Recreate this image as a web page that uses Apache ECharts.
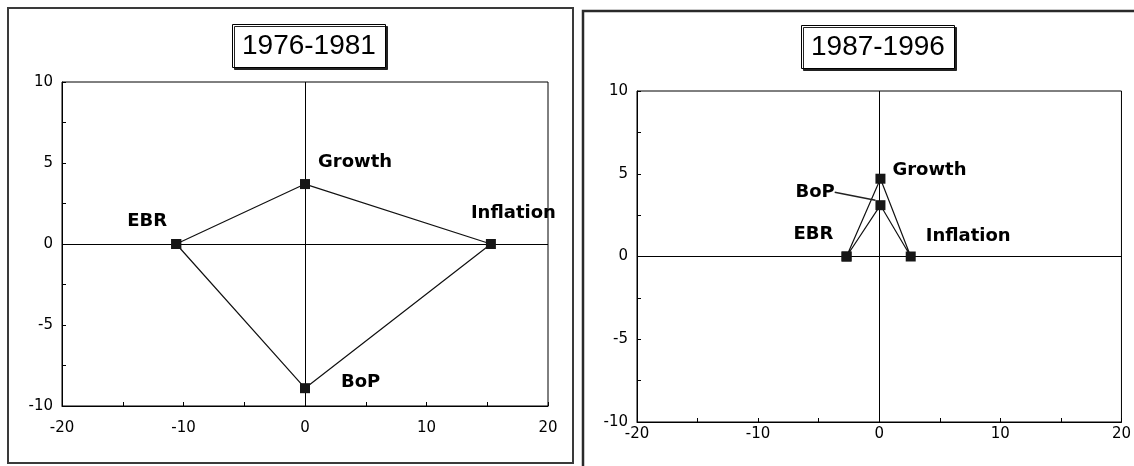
<!DOCTYPE html>
<html>
<head>
<meta charset="utf-8">
<script src="https://cdn.jsdelivr.net/npm/echarts@6/dist/echarts.min.js"></script>
<style>
  html, body { margin: 0; padding: 0; background: #fff; }
  #chart { width: 1134px; height: 466px; }
</style>
</head>
<body>
<div id="chart"></div>
<script>
// Donnees
const names = ['EBR', 'Growth', 'Inflation', 'BoP'];
const periods = ['1976-1981', '1987-1996'];
const x7681 = [-10.6, 0, 15.3, 0];
const y7681 = [0, 3.7, 0, -8.9];
const x8796 = [-2.7, 0.1, 2.6, 0.1];
const y8796 = [0, 4.7, 0, 3.1];
const xTicks = [-20, -10, 0, 10, 20];
const yTicks = [-10, -5, 0, 5, 10];

// Decalage des etiquettes par rapport au point (px)
const labelOffsets = [
    { EBR: [-49, -23], Growth: [13, -22], Inflation: [-20, -31], BoP: [36, -6] },
    { EBR: [-53, -22], Growth: [12, -8], Inflation: [15, -20], BoP: [-85, -13] }
];

const chart = echarts.init(document.getElementById('chart'), null, { renderer: 'canvas' });

const grids = [
    { left: 62, top: 82, width: 486, height: 324 },
    { left: 637, top: 91, width: 485, height: 331 }
];

function buildData(xs, ys, offsets, withLeader) {
    // polygone ferme : EBR -> Growth -> Inflation -> BoP -> EBR
    const order = [0, 1, 2, 3, 0];
    return order.map(function (i, k) {
        const off = offsets[names[i]];
        const item = {
            name: names[i],
            value: [xs[i], ys[i]],
            label: {
                show: k < 4,
                position: [5 + off[0], 5 + off[1]]
            }
        };
        if (withLeader && names[i] === 'BoP') {
            item.labelLine = { show: true, lineStyle: { color: '#222', width: 1.5 } };
        }
        return item;
    });
}

function makeSeries(idx, xs, ys) {
    return {
        type: 'line',
        xAxisIndex: idx,
        yAxisIndex: idx,
        symbol: 'rect',
        symbolSize: 10,
        showAllSymbol: true,
        itemStyle: { color: '#161616' },
        lineStyle: { color: '#111', width: 1.2 },
        label: {
            formatter: '{b}',
            align: 'left',
            verticalAlign: 'middle',
            color: '#000',
            fontFamily: 'DejaVu Sans',
            fontWeight: 'bold',
            fontSize: 18
        },
        markLine: {
            silent: true,
            symbol: 'none',
            label: { show: false },
            lineStyle: { color: '#000', type: 'solid', width: 1 },
            data: [{ xAxis: 0 }, { yAxis: 0 }]
        },
        data: buildData(xs, ys, labelOffsets[idx], idx === 1),
        z: 5
    };
}

function makeX(idx, margin) {
    return {
        type: 'value',
        gridIndex: idx,
        min: xTicks[0],
        max: xTicks[xTicks.length - 1],
        interval: 5,
        axisLine: { show: true, onZero: false, lineStyle: { color: '#000', width: 1 } },
        axisTick: { show: true, inside: true, length: 4, lineStyle: { color: '#000' } },
        splitLine: { show: false },
        axisLabel: {
            margin: margin,
            color: '#000',
            fontFamily: 'DejaVu Sans',
            fontSize: 15,
            formatter: function (v) { return xTicks.indexOf(v) >= 0 ? String(v) : ''; }
        }
    };
}

function makeY(idx) {
    return {
        type: 'value',
        gridIndex: idx,
        min: yTicks[0],
        max: yTicks[yTicks.length - 1],
        interval: 2.5,
        axisLine: { show: true, onZero: false, lineStyle: { color: '#000', width: 1 } },
        axisTick: { show: true, inside: true, length: 4, lineStyle: { color: '#000' } },
        splitLine: { show: false },
        axisLabel: {
            margin: 9,
            color: '#000',
            fontFamily: 'DejaVu Sans',
            fontSize: 15,
            formatter: function (v) { return yTicks.indexOf(v) >= 0 ? String(v) : ''; }
        }
    };
}

function makeTitle(text, left, top) {
    return {
        text: text,
        left: left,
        top: top,
        padding: [6, 10, 6, 10],
        borderColor: '#000',
        borderWidth: 1,
        backgroundColor: '#fff',
        shadowColor: '#222',
        shadowOffsetX: 2,
        shadowOffsetY: 2,
        shadowBlur: 0,
        textStyle: {
            fontFamily: "'Liberation Sans', Arial",
            fontWeight: 'normal',
            fontSize: 28,
            lineHeight: 32,
            color: '#000'
        }
    };
}

const option = {
    backgroundColor: '#fff',
    animation: false,
    title: [makeTitle(periods[0], 232, 24), makeTitle(periods[1], 801, 25)],
    graphic: [
        { type: 'rect', shape: { x: 8, y: 8, width: 565, height: 455 },
          style: { fill: 'none', stroke: '#3a3a3a', lineWidth: 2 } },
        { type: 'rect', shape: { x: 583, y: 11, width: 580, height: 480 },
          style: { fill: 'none', stroke: '#2a2a2a', lineWidth: 2.5 } }
    ],
    grid: grids.map(function (g) {
        return Object.assign({ show: true, borderColor: '#000', borderWidth: 1, backgroundColor: '#fff' }, g);
    }),
    xAxis: [makeX(0, 15), makeX(1, 5)],
    yAxis: [makeY(0), makeY(1)],
    series: [makeSeries(0, x7681, y7681), makeSeries(1, x8796, y8796)]
};

chart.setOption(option);

window.addEventListener('resize', () => {
    chart.resize();
});
</script>
</body>
</html>
